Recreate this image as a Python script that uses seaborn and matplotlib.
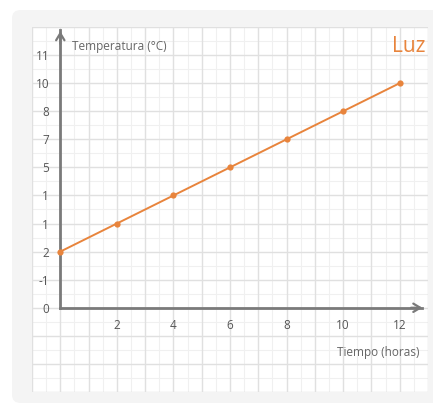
import numpy as np
import pandas as pd
import matplotlib.pyplot as plt
import seaborn as sns
from matplotlib.patches import FancyBboxPatch

tiempo = [0, 2, 4, 6, 8, 10, 12]
temperatura = [2, 3, 4, 5, 6, 7, 8]
ytick_pos = list(range(10))
ytick_labels = ['0', '-1', '2', '1', '1', '5', '7', '8', '10', '11']
xtick_pos = [2, 4, 6, 8, 10, 12]
xtick_labels = ['2', '4', '6', '8', '10', '12']

sns.set_style('white')
plt.rcParams['font.family'] = ['Open Sans', 'DejaVu Sans']

W, H = 433, 403
fig = plt.figure(figsize=(W / 100, H / 100), dpi=100)
fig.patch.set_facecolor('white')
fig.patches.append(FancyBboxPatch((12 / W, 0), 1, (H - 10) / H, boxstyle='round,pad=0,rounding_size=0.02',
                                  transform=fig.transFigure, facecolor='#f4f4f4', edgecolor='none', zorder=-10))

ax = fig.add_axes([32 / W, 1 - 392 / H, 396 / W, 365 / H])
ax.set_zorder(1)
ax.set_facecolor('white')
ax.set_xlim(-1, 13)
ax.set_ylim(-3, 10)

# graph paper
for v in np.arange(-0.5, 13, 1):
    ax.axvline(v, color='#f0f0f0', lw=0.8, zorder=0)
for v in np.arange(-2.5, 10, 1):
    ax.axhline(v, color='#f0f0f0', lw=0.8, zorder=0)
for v in np.arange(-1, 14, 1):
    ax.axvline(v, color='#e0e0e0', lw=1, zorder=0.5)
for v in np.arange(-3, 11, 1):
    ax.axhline(v, color='#e0e0e0', lw=1, zorder=0.5)

df = pd.DataFrame({'tiempo': tiempo, 'temperatura': temperatura})
sns.lineplot(data=df, x='tiempo', y='temperatura', ax=ax, color='#e8843c', lw=1.4,
             marker='o', markersize=4.5, markeredgewidth=0, zorder=5)

# axes with arrows
for s in ['top', 'right']:
    ax.spines[s].set_visible(False)
ax.spines['left'].set_position(('data', 0))
ax.spines['bottom'].set_position(('data', 0))
ax.spines['left'].set_bounds(0, 9.9)
ax.spines['bottom'].set_bounds(0, 12.8)
for s in ['left', 'bottom']:
    ax.spines[s].set_color('#7a7a7a')
    ax.spines[s].set_linewidth(2)
    ax.spines[s].set_zorder(4)
ax.annotate('', xy=(0, 9.95), xytext=(0, 9.3),
            arrowprops=dict(arrowstyle='->,head_length=0.5,head_width=0.3', color='#7a7a7a', lw=1.6))
ax.annotate('', xy=(12.9, 0), xytext=(12.3, 0),
            arrowprops=dict(arrowstyle='->,head_length=0.5,head_width=0.3', color='#7a7a7a', lw=1.6))

ax.set_yticks(ytick_pos, ytick_labels)
ax.set_xticks(xtick_pos, xtick_labels)
ax.tick_params(axis='both', length=0, labelsize=8.5, colors='#555555')
ax.tick_params(axis='y', pad=8)
ax.tick_params(axis='x', pad=8)
ax.set_xlabel('')
ax.set_ylabel('')

ax.text(0.4, 9.3, 'Temperatura (°C)', fontsize=8.5, color='#666666', va='center', ha='left')
ax.text(12.7, -1.6, 'Tiempo (horas)', fontsize=8.5, color='#666666', va='center', ha='right')
ax.text(12.9, 9.3, 'Luz', fontsize=15, color='#e8843c', va='center', ha='right')

fig.savefig('out.png', dpi=100, facecolor=fig.get_facecolor())
